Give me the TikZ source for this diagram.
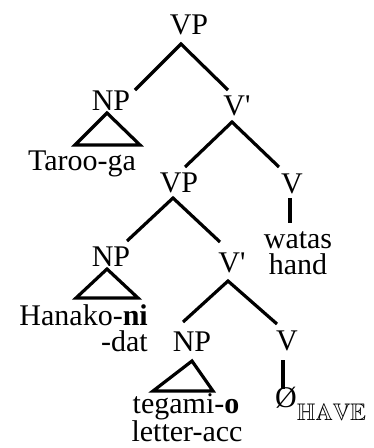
\documentclass[tikz,border=0pt]{standalone}
\usepackage{amssymb}
\usepackage{fontspec}
\setmainfont{Liberation Serif}
\usepackage{tikz}
\usetikzlibrary{calc}
\tikzstyle{cat}    = [inner sep=0pt, anchor=base, font=\fontsize{30}{33}\selectfont]
\tikzstyle{gloss}  = [cat]
\tikzstyle{branch} = [line width=3.2pt]

\begin{document}
\begin{tikzpicture}[x=1pt,y=-1pt]
    \useasboundingbox (0,0) rectangle (374,448);
    % Level 1: root VP with subject NP and V'
    \node (vp1)    at (189,34)  [cat] {VP};
    \node (np1)    at (111,110) [cat] {NP};
    \node (vb1)    at (237,115) [cat] {V\textquotesingle};
    \node (taroo)  at (82,170)  [gloss] {Taroo-ga};
    % Level 2: inner VP and the verb
    \node (vp2)    at (179,192) [cat] {VP};
    \node (v1)     at (292,193) [cat] {V};
    \node (watas)  at (298,248) [gloss] {watas};
    \node (hand)   at (298,274) [gloss] {hand};
    % Level 3: dative NP and lower V'
    \node (np2)    at (111,266) [cat] {NP};
    \node (vb2)    at (232,272) [cat] {V\textquotesingle};
    \node (hanako) at (148,325) [gloss, anchor=base east] {Hanako-\textbf{ni}};
    \node (dat)    at (148,351) [gloss, anchor=base east] {-dat};
    % Level 4: object NP and null verb
    \node (np3)    at (192,351) [cat] {NP};
    \node (v2)     at (287,350) [cat] {V};
    \node (tegami) at (186,413) [gloss] {tegami-\textbf{o}};
    \node (letter) at (187,441) [gloss] {letter-acc};
    \node (null)   at (275,407) [gloss, anchor=base west]
        {Ø\raisebox{-13pt}{\fontsize{24}{24}\selectfont$\mathbb{HAVE}$}};

    \draw [branch] ($(np1.base)+(24,-20)$) -- ($(vp1.base)+(-8,10)$) -- ($(vb1.base)+(-9,-25)$);
    \draw [branch] ($(taroo.base)+(-7,-25)$) -- ($(np1.base)+(-4,3)$) -- ($(taroo.base)+(58,-25)$) -- cycle;
    \draw [branch] ($(vp2.base)+(6,-25)$) -- ($(vb1.base)+(-5,7)$) -- ($(v1.base)+(-13,-26)$);
    \draw [branch] ($(v1.base)+(-2,5)$) -- ($(watas.base)+(-8,-25)$);
    \draw [branch] ($(np2.base)+(16,-25)$) -- ($(vp2.base)+(-6,6)$) -- ($(vb2.base)+(-12,-30)$);
    \draw [branch] ($(hanako.base east)+(-72,-27)$) -- ($(np2.base)+(-4,3)$) -- ($(hanako.base east)+(-10,-27)$) -- cycle;
    \draw [branch] ($(np3.base)+(-9,-29)$) -- ($(vb2.base)+(-4,9)$) -- ($(v2.base)+(-10,-26)$);
    \draw [branch] ($(tegami.base)+(-33,-22)$) -- ($(np3.base)+(0,10)$) -- ($(tegami.base)+(27,-22)$) -- cycle;
    \draw [branch] ($(v2.base)+(-4,10)$) -- ($(null.base west)+(8,-18)$);
\end{tikzpicture}
\end{document}
